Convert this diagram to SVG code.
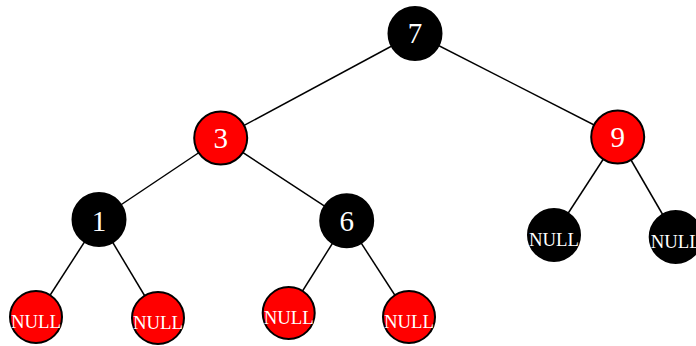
<svg xmlns="http://www.w3.org/2000/svg" width="696" height="346" viewBox="0 0 696 346">
<style>
.edge{stroke:#000;stroke-width:1.5;fill:none}
.red{fill:#ff0000;stroke:#000;stroke-width:2}
.blk{fill:#000;stroke:#000;stroke-width:2}
.num{font-family:"Liberation Serif","DejaVu Serif",serif;font-size:29px;fill:#fff;text-anchor:middle}
.nul{font-family:"Liberation Serif","DejaVu Serif",serif;font-size:19px;fill:#fff;text-anchor:middle}
</style>
<rect width="696" height="346" fill="#fff"/>
<g id="connectors">
<line class="edge" x1="415" y1="33.5" x2="220.7" y2="138"/>
<line class="edge" x1="415" y1="33.5" x2="617.7" y2="137"/>
<line class="edge" x1="220.7" y1="138" x2="99" y2="219.5"/>
<line class="edge" x1="220.7" y1="138" x2="346.7" y2="220.7"/>
<line class="edge" x1="99" y1="219.5" x2="36" y2="317"/>
<line class="edge" x1="99" y1="219.5" x2="158" y2="318"/>
<line class="edge" x1="346.7" y1="220.7" x2="288.7" y2="313"/>
<line class="edge" x1="346.7" y1="220.7" x2="409" y2="317"/>
<line class="edge" x1="617.7" y1="137" x2="554" y2="235"/>
<line class="edge" x1="617.7" y1="137" x2="675.7" y2="237"/>
</g>
<g id="n7"><circle class="blk" cx="415" cy="33.5" r="26.5"/><text class="num" x="415" y="43">7</text></g>
<g id="n3"><circle class="red" cx="220.7" cy="138" r="26.5"/><text class="num" x="220.7" y="148">3</text></g>
<g id="n9"><circle class="red" cx="617.7" cy="137" r="26.5"/><text class="num" x="617.7" y="147">9</text></g>
<g id="n1"><circle class="blk" cx="99" cy="219.5" r="26.5"/><text class="num" x="99" y="231">1</text></g>
<g id="n6"><circle class="blk" cx="346.7" cy="220.7" r="26.5"/><text class="num" x="346.7" y="231">6</text></g>
<g id="null1"><circle class="red" cx="36" cy="317" r="26"/><text class="nul" x="36" y="328" textLength="50" lengthAdjust="spacingAndGlyphs">NULL</text></g>
<g id="null2"><circle class="red" cx="158" cy="318" r="26"/><text class="nul" x="158" y="329" textLength="50" lengthAdjust="spacingAndGlyphs">NULL</text></g>
<g id="null3"><circle class="red" cx="288.7" cy="313" r="26"/><text class="nul" x="288.7" y="324" textLength="50" lengthAdjust="spacingAndGlyphs">NULL</text></g>
<g id="null4"><circle class="red" cx="409" cy="317" r="26"/><text class="nul" x="409" y="328" textLength="50" lengthAdjust="spacingAndGlyphs">NULL</text></g>
<g id="null5"><circle class="blk" cx="554" cy="235" r="26"/><text class="nul" x="554" y="246" textLength="50" lengthAdjust="spacingAndGlyphs">NULL</text></g>
<g id="null6"><circle class="blk" cx="675.7" cy="237" r="26"/><text class="nul" x="675.7" y="248" textLength="50" lengthAdjust="spacingAndGlyphs">NULL</text></g>
</svg>
